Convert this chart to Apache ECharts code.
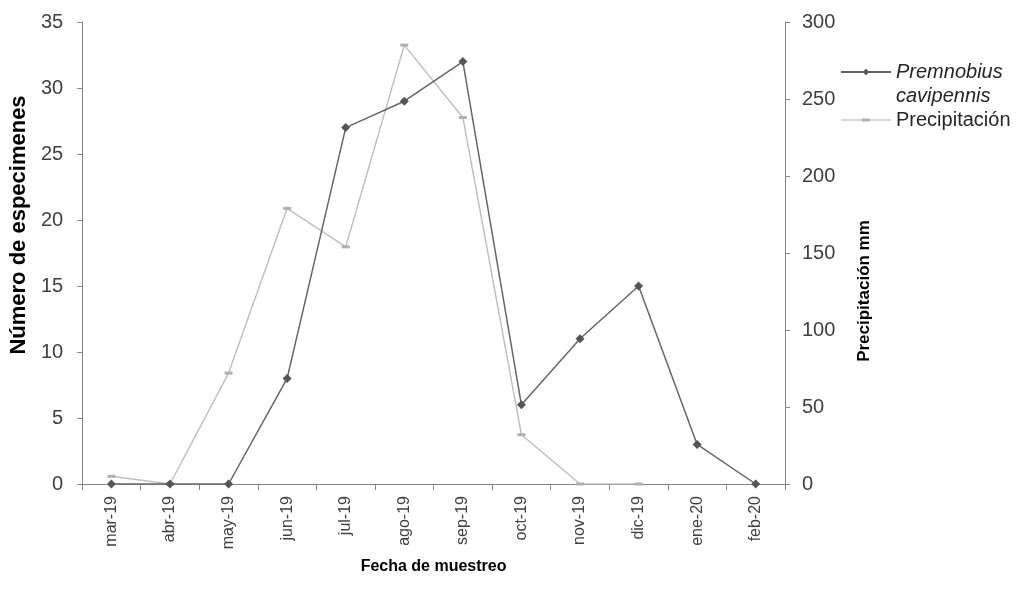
<!DOCTYPE html>
<html><head><meta charset="utf-8">
<script src="https://cdn.jsdelivr.net/npm/echarts@6/dist/echarts.min.js"></script>
<style>html,body{margin:0;padding:0;background:#fff}#c{width:1022px;height:603px}</style>
</head><body><div id="c"></div>
<script>
const categories = ['mar-19','abr-19','may-19','jun-19','jul-19','ago-19','sep-19','oct-19','nov-19','dic-19','ene-20','feb-20'];
const especimenes = [0,0,0,8,27,29,32,6,11,15,3,0];
const precipitacion = [5,0,72,179,154,285,238,32,0,0,null,null];
const leftTicks = {min:0,max:35,interval:5};
const rightTicks = {min:0,max:300,interval:50};

const F = '"Liberation Sans", Arial, sans-serif';
const axisCol = '#868686';
const lblCol = '#404040';
const chart = echarts.init(document.getElementById('c'));
chart.setOption({
  animation:false,
  textStyle:{fontFamily:F},
  grid:{left:79,right:237,top:22,bottom:119},
  legend:{
    orient:'vertical', left:840, top:36, padding:0, itemWidth:50, itemHeight:8, itemGap:0,
    textStyle:{fontFamily:F,fontSize:20,color:'#262626',lineHeight:24,
      rich:{i:{fontStyle:'italic',fontSize:20,fontFamily:F,color:'#262626',lineHeight:24},
            n:{fontSize:20,fontFamily:F,color:'#262626',lineHeight:24}}},
    formatter:function(n){ return n==='Premnobius cavipennis' ? '{n| }\n{i|Premnobius}\n{i|cavipennis}' : '{n|'+n+'}'; },
    data:[{name:'Premnobius cavipennis'},{name:'Precipitación',icon:'path://M0,3.5h50v1.2h-50z M21,2.6h8v3h-8z'}]
  },
  xAxis:{
    type:'category', data:categories, boundaryGap:true,
    name:'Fecha de muestreo', nameLocation:'middle', nameGap:75,
    nameTextStyle:{fontWeight:'bold',fontSize:16,color:'#000',fontFamily:F},
    axisLine:{lineStyle:{color:axisCol,width:1}},
    axisTick:{show:true,alignWithLabel:false,length:6,lineStyle:{color:axisCol}},
    axisLabel:{rotate:90,fontSize:16,color:lblCol,margin:12,fontFamily:F}
  },
  yAxis:[{
    type:'value', position:'left', min:leftTicks.min, max:leftTicks.max, interval:leftTicks.interval,
    name:'Número de especimenes', nameLocation:'middle', nameGap:41, nameRotate:90,
    nameTextStyle:{fontWeight:'bold',fontSize:22,color:'#000',fontFamily:F,padding:[0,0,0,56]},
    axisLine:{show:true,lineStyle:{color:axisCol}},
    axisTick:{show:true,length:5,lineStyle:{color:axisCol}},
    splitLine:{show:false},
    axisLabel:{fontSize:20,color:lblCol,margin:19,fontFamily:F}
  },{
    type:'value', position:'right', min:rightTicks.min, max:rightTicks.max, interval:rightTicks.interval,
    name:'Precipitación mm', nameLocation:'middle', nameGap:71, nameRotate:90,
    nameTextStyle:{fontWeight:'bold',fontSize:17,color:'#000',fontFamily:F,padding:[0,76,0,0]},
    axisLine:{show:true,lineStyle:{color:axisCol}},
    axisTick:{show:true,length:5,lineStyle:{color:axisCol}},
    splitLine:{show:false},
    axisLabel:{fontSize:20,color:lblCol,margin:17,fontFamily:F}
  }],
  series:[{
    name:'Precipitación', type:'line', yAxisIndex:1, data:precipitacion,
    symbol:'rect', symbolSize:[8,3], showAllSymbol:true, connectNulls:false,
    lineStyle:{color:'#c0c0c0',width:1.5}, itemStyle:{color:'#b0b0b0'}, z:2
  },{
    name:'Premnobius cavipennis', type:'line', yAxisIndex:0, data:especimenes,
    symbol:'diamond', symbolSize:9, showAllSymbol:true,
    lineStyle:{color:'#666666',width:1.5}, itemStyle:{color:'#555555'}, z:3
  }]
});
</script></body></html>
